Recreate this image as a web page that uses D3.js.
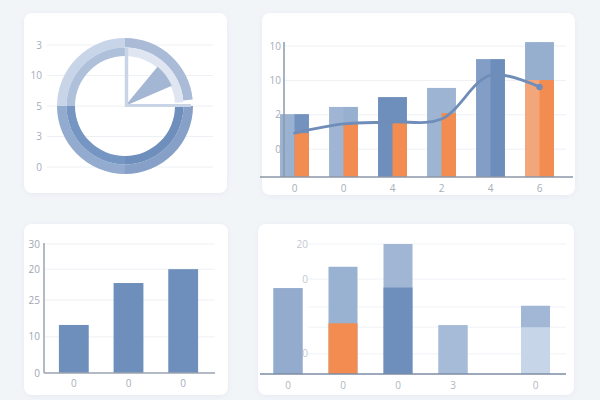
<!DOCTYPE html>
<html><head><meta charset="utf-8">
<script src="https://cdn.jsdelivr.net/npm/d3@7"></script>
<style>html,body{margin:0;padding:0;background:#f2f5f8;} svg{display:block;}</style>
</head><body><svg id="c" width="600" height="400"></svg>
<script>
// ---------- DATA ----------
// Panel 1 (donut)
const p1TickLabels = ["0", "3", "5", "10", "3"];        // bottom to top
const donutOuterVals = [23.5, 1.5, 25, 25, 25];         // clockwise from 12 o'clock
const donutInnerVals = [24, 1, 25, 25, 25];
const wedgeVals = [11, 7.5, 81.5];                      // middle slice drawn

// Panel 2 (bars + line)
const p2Cats = ["0", "0", "4", "2", "4", "6"];
const p2Blue = [19.2, 21.4, 24.4, 27.2, 36, 41.2];
const p2OrangeRight = [13.4, 16.5, 17.1, 19.5, 0, 29.6];
const p2OrangeLeft = [0, 0, 0, 0, 0, 29.6];
const p2Line = [13.4, 16.2, 16.8, 17.7, 31.1, 27.5];
const p2Ticks = [8.5, 19, 29.5, 40];
const p2TickLabels = ["0", "2", "10", "10"];

// Panel 3 (simple bars)
const p3Cats = ["0", "0", "0"];
const p3Vals = [14.9, 27.9, 32.2];
const p3Ticks = [0, 11.2, 22.6, 32.2, 40];
const p3TickLabels = ["0", "10", "25", "20", "30"];

// Panel 4 (stacked bars)
const p4Cats = ["0", "0", "0", "3", "0"];
const p4Slot = [0, 1, 2, 3, 4.5];
const p4Total = [13.2, 16.5, 20, 7.5, 10.5];
const p4Lower = [13.2, 7.8, 13.3, 7.5, 7.2];
const p4Ticks = [3.1, 7.2, 10.3, 14.6, 20];
const p4TickLabels = ["0", "", "", "0", "20"];

// ---------- STYLE ----------
const font = "'Open Sans', 'DejaVu Sans', sans-serif";
const labelColor = "#a6aeba";
const gridColor = "#edf0f4";
const orange = "#f28c50", orangeLight = "#f4a67b";
const p2LeftTone = ["#9ab2d2", "#9fb5d3", "#6e8ebb", "#9db4d3", "#829ec7", "#97afcf"];
const p2RightTone = ["#7392be", "#98b0d0", "#6e8ebb", "#9db4d3", "#6d8dba", "#97afcf"];
const outerTones = ["#a9bbd6", "none", "#86a0c8", "#93abcf", "#c8d5e8"];
const innerTones = ["#dfe6f1", "none", "#6e8ebc", "#7595c2", "#afc0db"];
const p4UpperTone = ["#93acce", "#9ab2d2", "#a0b6d4", "#a6bbd7", "#a2b7d5"];
const p4LowerTone = ["#93acce", orange, "#6e8ebb", "#a6bbd7", "#c6d5e7"];

const svg = d3.select("#c");
const defs = svg.append("defs");
const f = defs.append("filter").attr("id", "sh").attr("x", "-10%").attr("y", "-10%").attr("width", "120%").attr("height", "120%");
f.append("feDropShadow").attr("dx", 0).attr("dy", 1).attr("stdDeviation", 3).attr("flood-color", "#8a9ab0").attr("flood-opacity", 0.12);

function panel(x, y, w, h) {
  svg.append("rect").attr("x", x).attr("y", y).attr("width", w).attr("height", h)
    .attr("rx", 8).attr("fill", "#ffffff").attr("filter", "url(#sh)");
}
function label(g, x, y, t, anchor, color) {
  g.append("text").attr("x", x).attr("y", y).attr("dy", "0.35em")
    .attr("text-anchor", anchor).attr("font-family", font).attr("font-size", 10)
    .attr("fill", color || labelColor).text(t);
}

panel(24, 13, 203, 180);
panel(262, 13, 313, 182);
panel(24, 224, 204, 171);
panel(258, 224, 316, 171);

// ---------- PANEL 1 ----------
{
  const g = svg.append("g");
  const y = d3.scaleLinear().domain([0, p1TickLabels.length - 1]).range([167, 45]);
  p1TickLabels.forEach((t, i) => {
    g.append("line").attr("x1", 47).attr("x2", 213).attr("y1", y(i)).attr("y2", y(i))
      .attr("stroke", gridColor).attr("stroke-width", 1);
    label(g, 42, y(i), t, "end");
  });
  const cx = 125, cy = 106;
  const dg = g.append("g").attr("transform", `translate(${cx},${cy})`);
  const pie = d3.pie().sort(null).value(d => d);
  const outerArc = d3.arc().innerRadius(58.5).outerRadius(68);
  const innerArc = d3.arc().innerRadius(50).outerRadius(58.5);
  dg.selectAll("path.o").data(pie(donutOuterVals)).join("path").attr("class", "o")
    .attr("d", outerArc).attr("fill", (d, i) => outerTones[i]);
  dg.selectAll("path.i").data(pie(donutInnerVals)).join("path").attr("class", "i")
    .attr("d", innerArc).attr("fill", (d, i) => innerTones[i]);
  const wArc = d3.arc().innerRadius(0).outerRadius(51);
  dg.selectAll("path.w").data(pie(wedgeVals).filter((d, i) => i === 1)).join("path").attr("class", "w")
    .attr("d", wArc).attr("fill", "#a3b6d3");
  // radius spokes
  dg.append("line").attr("x1", 1.5).attr("y1", 0).attr("x2", 1.5).attr("y2", -58)
    .attr("stroke", "#c9d5e7").attr("stroke-width", 3.5);
  dg.append("line").attr("x1", 0).attr("y1", -0.5).attr("x2", 66).attr("y2", -0.5)
    .attr("stroke", "#c9d5e7").attr("stroke-width", 3);
}

// ---------- PANEL 2 ----------
{
  const g = svg.append("g");
  const y = d3.scaleLinear().domain([0, 40]).range([177, 46]);
  const x = d3.scaleBand().domain(d3.range(p2Cats.length)).range([270, 564]).paddingInner(0.41).paddingOuter(0.205);
  p2Ticks.forEach((t, i) => {
    g.append("line").attr("x1", 284).attr("x2", 566).attr("y1", y(t)).attr("y2", y(t))
      .attr("stroke", gridColor);
    label(g, 281, y(t), p2TickLabels[i], "end");
  });
  const bw = x.bandwidth(), hw = bw / 2;
  p2Blue.forEach((v, i) => {
    const x0 = x(i);
    g.append("rect").attr("x", x0).attr("y", y(v)).attr("width", hw + 0.5).attr("height", y(0) - y(v)).attr("fill", p2LeftTone[i]);
    g.append("rect").attr("x", x0 + hw).attr("y", y(v)).attr("width", hw).attr("height", y(0) - y(v)).attr("fill", p2RightTone[i]);
    if (p2OrangeLeft[i] > 0)
      g.append("rect").attr("x", x0).attr("y", y(p2OrangeLeft[i])).attr("width", hw + 0.5).attr("height", y(0) - y(p2OrangeLeft[i])).attr("fill", orangeLight);
    if (p2OrangeRight[i] > 0)
      g.append("rect").attr("x", x0 + hw).attr("y", y(p2OrangeRight[i])).attr("width", hw).attr("height", y(0) - y(p2OrangeRight[i])).attr("fill", orange);
  });
  const line = d3.line().x((d, i) => x(i) + hw).y(d => y(d)).curve(d3.curveCatmullRom.alpha(0.5));
  g.append("path").attr("d", line(p2Line)).attr("fill", "none").attr("stroke", "#6f8db8")
    .attr("stroke-width", 2.8).attr("stroke-linecap", "round");
  g.append("circle").attr("cx", x(p2Line.length - 1) + hw).attr("cy", y(p2Line[p2Line.length - 1])).attr("r", 3.2).attr("fill", "#6f8db8");
  g.append("line").attr("x1", 284).attr("x2", 284).attr("y1", 42).attr("y2", 177).attr("stroke", "#8d99aa").attr("stroke-width", 1.5);
  g.append("line").attr("x1", 260).attr("x2", 573).attr("y1", 177).attr("y2", 177).attr("stroke", "#8c97a8").attr("stroke-width", 1.5);
  p2Cats.forEach((c, i) => label(g, x(i) + hw, 188, c, "middle"));
}

// ---------- PANEL 3 ----------
{
  const g = svg.append("g");
  const y = d3.scaleLinear().domain([0, 40]).range([373, 244]);
  const x = d3.scaleBand().domain(d3.range(p3Cats.length)).range([42.5, 214.5]).paddingInner(0.4545).paddingOuter(0.3);
  p3Ticks.forEach((t, i) => {
    if (t > 0) g.append("line").attr("x1", 44).attr("x2", 215).attr("y1", y(t)).attr("y2", y(t)).attr("stroke", gridColor);
    label(g, 40, y(t), p3TickLabels[i], "end", "#9ea6b2");
  });
  g.selectAll("rect.b").data(p3Vals).join("rect").attr("class", "b")
    .attr("x", (d, i) => x(i)).attr("y", d => y(d)).attr("width", x.bandwidth()).attr("height", d => y(0) - y(d))
    .attr("fill", "#6e8fbb");
  g.append("line").attr("x1", 44).attr("x2", 44).attr("y1", 243).attr("y2", 373).attr("stroke", "#9aa3b0").attr("stroke-width", 1.5);
  g.append("line").attr("x1", 44).attr("x2", 215).attr("y1", 373).attr("y2", 373).attr("stroke", "#9aa3b0").attr("stroke-width", 1.5);
  p3Cats.forEach((c, i) => label(g, x(i) + x.bandwidth() / 2, 383, c, "middle"));
}

// ---------- PANEL 4 ----------
{
  const g = svg.append("g");
  const y = d3.scaleLinear().domain([0, 20]).range([374, 244]);
  const x = d3.scaleLinear().domain([0, 1]).range([288, 343]);
  const bw = 29;
  p4Ticks.forEach((t, i) => {
    g.append("line").attr("x1", 308).attr("x2", 566).attr("y1", y(t)).attr("y2", y(t)).attr("stroke", "#f0f2f6");
    if (p4TickLabels[i]) label(g, 308, y(t), p4TickLabels[i], "end", "#c2c8d1");
  });
  p4Total.forEach((v, i) => {
    const x0 = x(p4Slot[i]) - bw / 2;
    g.append("rect").attr("x", x0).attr("y", y(v)).attr("width", bw).attr("height", y(0) - y(v)).attr("fill", p4UpperTone[i]);
    g.append("rect").attr("x", x0).attr("y", y(p4Lower[i])).attr("width", bw).attr("height", y(0) - y(p4Lower[i])).attr("fill", p4LowerTone[i]);
  });
  g.append("line").attr("x1", 260).attr("x2", 566).attr("y1", 374).attr("y2", 374).attr("stroke", "#7d8ca3").attr("stroke-width", 1.3);
  p4Cats.forEach((c, i) => label(g, x(p4Slot[i]), 385, c, "middle", "#b0b7c1"));
}
</script></body></html>
